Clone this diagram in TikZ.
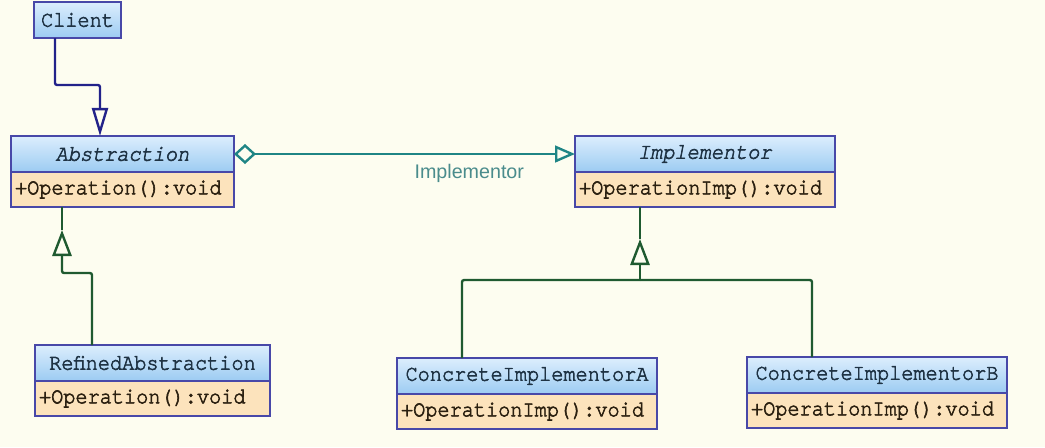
\documentclass[tikz,border=0pt]{standalone}
\usepackage{fontspec}
\setmainfont{Liberation Sans}
\setsansfont{Liberation Sans}
\setmonofont{TeX Gyre Cursor}[FakeStretch=0.9, FakeBold=2.5]
\usetikzlibrary{arrows.meta,calc}

\definecolor{bgcream}{HTML}{FDFDF0}
\definecolor{boxedge}{HTML}{4848A8}
\definecolor{headtop}{HTML}{DCEEFD}
\definecolor{headbot}{HTML}{9CCBF2}
\definecolor{headtext}{HTML}{1F3344}
\definecolor{opfill}{HTML}{FCE3BC}
\definecolor{optext}{HTML}{2B2010}
\definecolor{useline}{HTML}{22228A}
\definecolor{genline}{HTML}{1F5A30}
\definecolor{assocline}{HTML}{1F8585}
\definecolor{assoctext}{HTML}{4A8C8C}

\begin{document}
\begin{tikzpicture}[
  x=0.025cm, y=-0.025cm,
  font=\ttfamily\fontsize{16}{18}\selectfont,
  head/.style={draw=boxedge, line width=1.3pt, top color=headtop, bottom color=headbot,
               text=headtext, minimum height=0.9cm, inner sep=0.1cm, outer sep=0pt,
               align=center, anchor=north west},
  oper/.style={draw=boxedge, line width=1.3pt, fill=opfill, text=optext,
               minimum height=0.875cm, inner sep=0.1cm, outer sep=0pt,
               align=left, anchor=north west},
  uses/.style={draw=useline, line width=1.7pt, rounded corners=1.5pt},
  inherit/.style={draw=genline, line width=1.7pt, rounded corners=1.5pt},
  assoc/.style={draw=assocline, line width=1.7pt},
  assoclbl/.style={font=\sffamily\fontsize{14}{16}\selectfont, text=assoctext},
  opentri/.tip={Triangle[open, length=0.65cm, width=0.48cm]},
]
% ---- background and frame ----
\path[use as bounding box, fill=bgcream] (0,0) rectangle (1045,447);

% ---- classes: name box with operation box below ----
\foreach \name/\x/\y/\w/\title/\op in {%
  abs/11/136/223/\textit{Abstraction}/{+Operation():void},
  imp/575/136/260/\textit{Implementor}/{+OperationImp():void},
  ref/35/345/235/RefinedAbstraction/{+Operation():void},
  cia/397/358/260/ConcreteImplementorA/{+OperationImp():void},
  cib/747/357/260/ConcreteImplementorB/{+OperationImp():void}}{
    \node[head, text width={(\w-8)*0.025cm}] (\name) at (\x,\y) {\title};
    \node[oper, text width={(\w-8)*0.025cm}] (\name-op) at (\name.south west) {\op};
}
\node[head, text width={(87-8)*0.025cm}] (client) at (34,2) {Client};

% ---- Client uses Abstraction ----
\draw[uses, -{Triangle[open, length=0.7cm, width=0.4cm]}]
  ($(client.south west)+(21,0)$) -- ++(0,47) -| ($(abs.north west)+(89,0)$);

% ---- Abstraction holds an Implementor ----
\draw[assoc, {Diamond[open, length=0.55cm, width=0.5cm]}-{Triangle[open, length=0.5cm, width=0.42cm]}]
  (abs.east) -- (imp.west)
  node[assoclbl, pos=0.69, below=0.1cm] (implbl) {Implementor};

% ---- RefinedAbstraction extends Abstraction ----
\coordinate (abstip) at ($(abs-op.south west)+(51,23)$);
\draw[inherit] ($(abs-op.south west)+(51,0)$) -- (abstip);
\draw[inherit, {opentri}-] (abstip) -- ++(0,43) -| ($(ref.north west)+(57,0)$);

% ---- concrete implementors extend Implementor ----
\coordinate (imptip) at ($(imp-op.south west)+(65,32)$);
\coordinate (impfork) at ($(imptip)+(0,41)$);
\draw[inherit] ($(imp-op.south west)+(65,0)$) -- (imptip);
\draw[inherit, {opentri}-] (imptip) -- (impfork);
\draw[inherit] (impfork) -| ($(cia.north west)+(65,0)$);
\draw[inherit] (impfork) -| ($(cib.north west)+(65,0)$);
\end{tikzpicture}
\end{document}
